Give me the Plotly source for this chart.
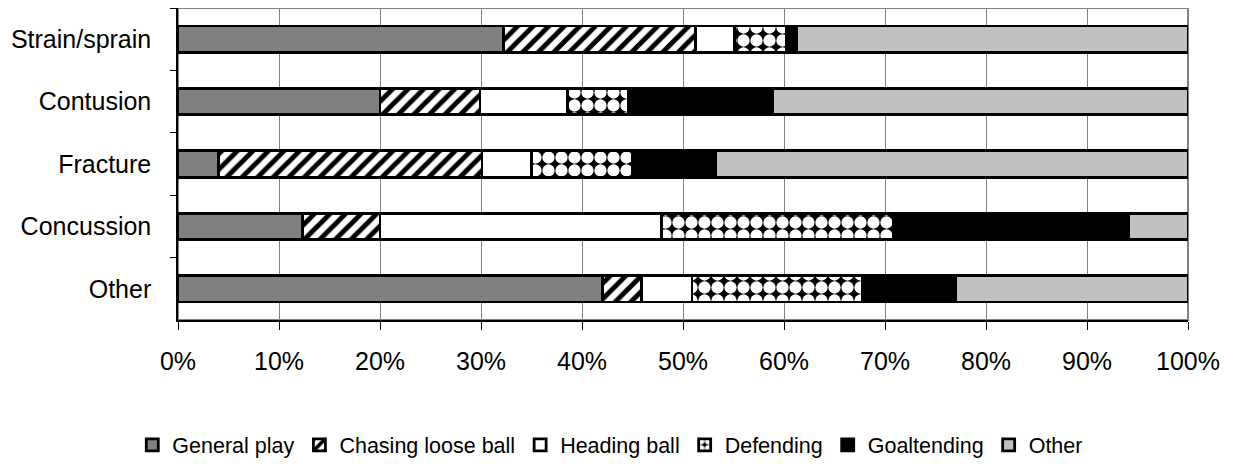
import plotly.graph_objects as go

categories = ["Strain/sprain", "Contusion", "Fracture", "Concussion", "Other"]
series_names = ["General play", "Chasing loose ball", "Heading ball", "Defending", "Goaltending", "Other"]
general_play = [32.2, 20.0, 4.0, 12.3, 42.0]
chasing_loose_ball = [19.0, 9.9, 26.1, 7.7, 3.9]
heading_ball = [3.9, 8.7, 4.9, 27.9, 5.0]
defending = [5.1, 6.0, 10.0, 22.9, 16.9]
goaltending = [1.0, 14.3, 8.2, 23.3, 9.2]
other = [38.8, 41.1, 46.8, 5.9, 23.0]
x_ticks = [0, 10, 20, 30, 40, 50, 60, 70, 80, 90, 100]
x_tick_labels = [f"{t}%" for t in x_ticks]

values = [general_play, chasing_loose_ball, heading_ball, defending, goaltending, other]
styles = [
    dict(color="#808080"),
    dict(color="white", pattern=dict(shape="/", fgcolor="black", bgcolor="white", size=11, solidity=0.45, fillmode="replace")),
    dict(color="white"),
    dict(color="black", pattern=dict(shape=".", fgcolor="white", bgcolor="black", size=13, solidity=0.70, fillmode="replace")),
    dict(color="black"),
    dict(color="#C0C0C0"),
]

fig = go.Figure()
for name, vals, st in zip(series_names, values, styles):
    marker = dict(st)
    marker["line"] = dict(color="black", width=2.8)
    fig.add_trace(go.Bar(y=categories, x=vals, name=name, orientation="h", marker=marker))

fig.update_layout(
    width=1226, height=458,
    margin=dict(l=170, r=46, t=0, b=142),
    barmode="stack", bargap=0.575,
    plot_bgcolor="white", paper_bgcolor="white",
    font=dict(family="Liberation Sans, Arial, sans-serif", size=25, color="black"),
    showlegend=True,
    legend=dict(orientation="h", x=0.428, xanchor="center", y=-0.40, yanchor="middle",
                font=dict(size=21.5), traceorder="normal", itemwidth=30,
                itemclick=False),
    shapes=[dict(type="rect", xref="paper", yref="paper", x0=0, x1=1, y0=0, y1=1,
                 line=dict(color="#808080", width=2), layer="below")],
)
fig.update_xaxes(range=[0, 100], tickvals=x_ticks, ticktext=x_tick_labels,
                 showgrid=True, gridcolor="#808080", gridwidth=1,
                 showline=True, linecolor="black", linewidth=1.5,
                 ticks="outside", ticklen=8, tickcolor="black", tickwidth=1,
                 ticklabelstandoff=10, zeroline=False, fixedrange=True)
fig.update_yaxes(categoryorder="array", categoryarray=categories, autorange="reversed",
                 showline=True, linecolor="black", linewidth=1.5,
                 ticks="outside", ticklen=6, tickcolor="black", tickson="boundaries",
                 ticklabelstandoff=20, showgrid=False, fixedrange=True)

fig.write_html("out.html")
